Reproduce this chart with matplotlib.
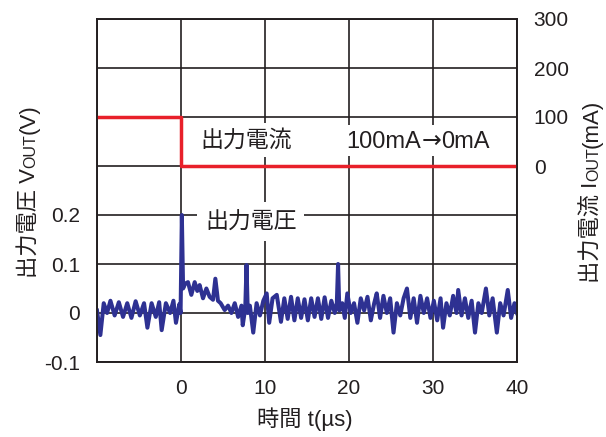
import matplotlib
matplotlib.use("Agg")
import matplotlib.pyplot as plt
from matplotlib.patches import Rectangle
from matplotlib.transforms import IdentityTransform

# Latin glyphs from Liberation Sans, kanji from Noto CJK
FAM = ["Liberation Sans", "Noto Sans CJK JP"]
plt.rcParams["font.family"] = FAM

INK = "#231f20"
BLUE = "#2e3192"
RED = "#e8202a"

# output voltage waveform (time in us, voltage in V)
t_us = [-10.0, -9.6, -9.2, -8.8, -8.4, -7.9, -7.4, -6.9, -6.4, -5.9,
        -5.4, -4.9, -4.4, -4.0, -3.5, -3.0, -2.6, -2.3, -1.8, -1.3,
        -0.9, -0.6, -0.2, -0.05, 0.1, 0.25, 0.5, 0.83, 1.23, 1.63,
        1.94, 2.22, 2.62, 3.02, 3.41, 3.81, 4.09, 4.4, 4.72, 5.2,
        5.6, 6.0, 6.4, 6.8, 7.2, 7.35, 7.65, 7.8, 7.95, 8.2,
        8.6, 9.0, 9.4, 9.8, 10.2, 10.5, 10.9, 11.4, 11.9, 12.3,
        12.7, 13.1, 13.5, 13.9, 14.3, 14.7, 15.1, 15.5, 15.9, 16.3,
        16.7, 17.1, 17.5, 17.9, 18.3, 18.55, 18.7, 18.85, 19.2, 19.5,
        19.8, 20.2, 20.6, 21.0, 21.4, 21.8, 22.2, 22.6, 23.0, 23.3,
        23.7, 24.1, 24.5, 24.9, 25.3, 25.7, 26.1, 26.5, 26.9, 27.3,
        27.7, 28.1, 28.5, 28.9, 29.3, 29.7, 30.1, 30.5, 30.9, 31.2,
        31.6, 32.0, 32.4, 32.8, 33.0, 33.4, 33.8, 34.2, 34.6, 35.0,
        35.4, 35.8, 36.3, 36.7, 37.1, 37.6, 38.0, 38.4, 38.9, 39.3,
        39.7, 40.0]
vout = [0.005, -0.045, 0.020, 0.000, 0.025, -0.005, 0.022, -0.008, 0.020, -0.010,
        0.024, -0.005, 0.020, -0.030, 0.020, -0.008, 0.022, -0.035, 0.020, 0.000,
        0.025, -0.020, 0.018, 0.000, 0.200, 0.050, 0.060, 0.063, 0.037, 0.063,
        0.045, 0.057, 0.030, 0.050, 0.033, 0.027, 0.070, 0.025, 0.020, 0.006,
        0.015, 0.000, 0.020, -0.008, 0.015, -0.025, 0.010, 0.098, 0.000, 0.015,
        -0.040, 0.020, -0.005, 0.025, 0.040, -0.020, 0.030, 0.037, -0.018, 0.030,
        -0.012, 0.033, -0.015, 0.030, -0.010, 0.028, -0.015, 0.030, -0.008, 0.030,
        -0.012, 0.032, -0.010, 0.025, 0.000, 0.020, 0.100, 0.005, 0.020, -0.010,
        0.040, 0.000, 0.020, -0.020, 0.030, 0.005, 0.033, -0.015, 0.020, 0.040,
        -0.010, 0.035, 0.000, 0.030, -0.040, 0.020, -0.005, 0.030, 0.050, -0.010,
        0.030, -0.020, 0.035, 0.000, 0.030, -0.010, 0.025, -0.015, 0.030, -0.030,
        0.020, -0.005, 0.035, 0.000, 0.047, -0.005, 0.030, -0.010, 0.025, -0.040,
        0.020, 0.000, 0.050, -0.005, 0.030, -0.040, 0.020, -0.005, 0.047, -0.010,
        0.020, 0.000]

# load current step (mA)
t_iout = [-10, 0, 40]
iout = [100, 0, 0]

x_ticks = [-10, 0, 10, 20, 30, 40]
x_labels = ["", "0", "10", "20", "30", "40"]
v_ticks = [-0.1, 0.0, 0.1, 0.2, 0.3, 0.4, 0.5, 0.6]
v_labels = ["-0.1", "0", "0.1", "0.2", "", "", "", ""]
i_ticks = [0, 100, 200, 300]
i_labels = ["0", "100", "200", "300"]

W, H = 606, 437
fig = plt.figure(figsize=(W / 100, H / 100), dpi=100)
ax = fig.add_axes([97 / W, 1 - 362 / H, 420 / W, 343 / H])
ax2 = ax.twinx()

ax.plot(t_us, vout, color=BLUE, lw=2.9, solid_joinstyle="round", zorder=3)
ax2.step(t_iout, iout, where="post", color=RED, lw=2.5)

ax.set_xlim(-10, 40)
ax.set_ylim(-0.1, 0.6)
ax2.set_ylim(-400, 300)
ax.set_xticks(x_ticks, x_labels)
ax.set_yticks(v_ticks, v_labels)
ax2.set_yticks(i_ticks, i_labels)

ax.grid(True, color=INK, lw=1.2)
ax.tick_params(length=0, labelsize=15, colors=INK)
ax.tick_params(axis="x", pad=12)
ax.tick_params(axis="y", pad=12)
ax2.tick_params(length=0, labelsize=15, colors=INK, pad=12)
for a in (ax, ax2):
    for s in a.spines.values():
        s.set_color(INK)
        s.set_linewidth(1.2)

box = dict(facecolor="white", edgecolor="none", boxstyle="square,pad=0.25")
ax.text(7.7, 0.353, "出力電流", ha="center", va="center", fontsize=16.5,
        color=INK, bbox=box, zorder=4)
ax.text(8.3, 0.186, "出力電圧", ha="center", va="center", fontsize=16.5,
        color=INK, bbox=dict(facecolor="white", edgecolor="none",
                             boxstyle="square,pad=0.35"), zorder=4)

fig.text(305 / W, 1 - 419 / H, "時間 t(µs)", ha="center", va="center",
         fontsize=16, color=INK)

r = fig.canvas.get_renderer()


def hlabel(xc_px, base_px, parts):
    # horizontal run of pieces on one baseline, each with its own font,
    # laid over a single white patch that hides the grid
    texts = [fig.text(0, 0, s, ha="left", va="baseline", fontsize=size,
                      family=fam, color=INK, zorder=5,
                      transform=IdentityTransform())
             for s, size, fam in parts]
    widths = [t.get_window_extent(r).width for t in texts]
    total = sum(widths)
    x = xc_px - total / 2
    for t, w in zip(texts, widths):
        t.set_position((x, H - base_px))
        x += w
    fig.add_artist(Rectangle((xc_px - total / 2 - 5, H - base_px - 8),
                             total + 10, 31, facecolor="white",
                             edgecolor="none", zorder=4,
                             transform=IdentityTransform()))


def vlabel(x_px, yc_px, parts):
    # vertical label built from pieces so "OUT" can be set smaller
    texts = [fig.text(0, 0, s, rotation=90, rotation_mode="anchor",
                      ha="left", va="baseline", fontsize=size, color=INK,
                      transform=IdentityTransform())
             for s, size in parts]
    lengths = [t.get_window_extent(r).height for t in texts]
    y = (H - yc_px) - sum(lengths) / 2
    for t, L in zip(texts, lengths):
        t.set_position((x_px, y))
        y += L


hlabel(418, 148, [("100mA", 17, FAM), ("→", 17, "DejaVu Sans"),
                  ("0mA", 17, FAM)])
vlabel(35, 191, [("出力電圧 V", 16), ("OUT", 11.5), ("(V)", 16)])
vlabel(598, 191, [("出力電流 I", 16), ("OUT", 11.5), ("(mA)", 16)])

fig.savefig("out.png", dpi=100)
